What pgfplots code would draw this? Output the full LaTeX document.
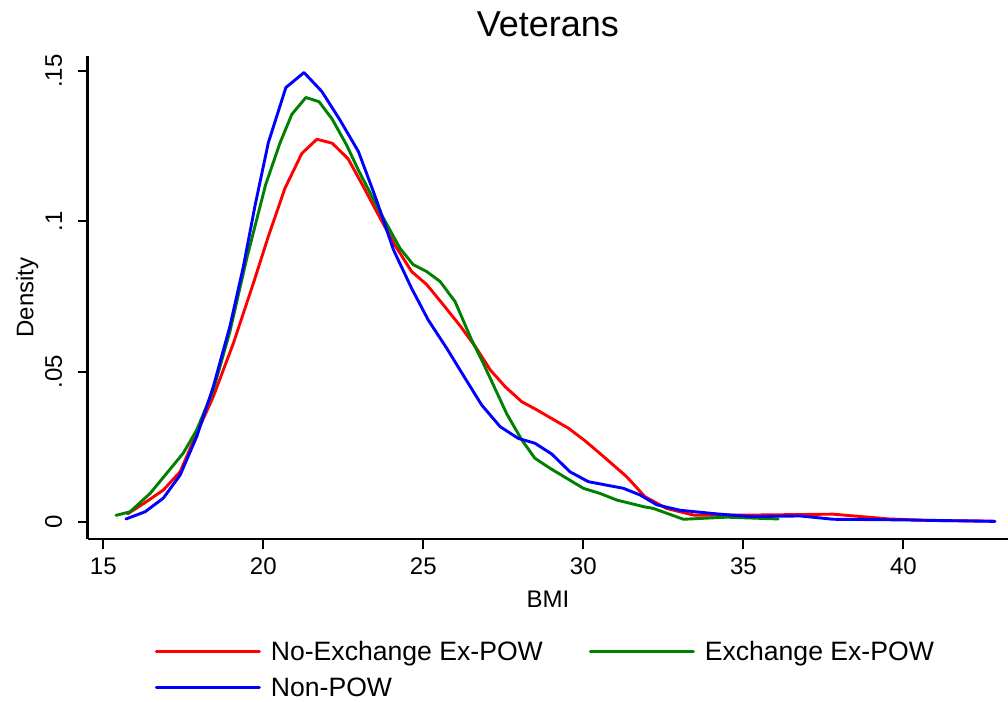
\documentclass[border=0pt]{standalone}
\usepackage{pgfplots}
\pgfplotsset{compat=1.18}
\usepackage{fontspec}
\setmainfont{Liberation Sans}
\definecolor{sred}{RGB}{255,0,0}
\definecolor{sgreen}{RGB}{0,128,0}
\definecolor{sblue}{RGB}{0,0,255}

\pgfplotstableread{
x y
15.759 0.0027
16.355 0.0068
16.873 0.0106
17.401 0.0167
17.919 0.0295
18.437 0.0417
19.063 0.0594
19.689 0.0794
20.158 0.0950
20.676 0.1110
21.204 0.1226
21.673 0.1273
22.152 0.1260
22.650 0.1208
23.129 0.1115
23.628 0.1015
24.117 0.0920
24.635 0.0833
25.104 0.0790
25.681 0.0715
26.169 0.0650
26.658 0.0578
27.098 0.0505
27.557 0.0450
28.076 0.0400
28.545 0.0373
29.532 0.0312
30.031 0.0272
30.519 0.0228
31.350 0.0151
31.927 0.0084
32.601 0.0045
33.442 0.0023
35.211 0.0023
36.922 0.0025
37.802 0.0026
38.681 0.0018
39.561 0.0010
40.832 0.0005
42.800 0.0003
}\noexch

\pgfplotstableread{
x y
15.397 0.0022
15.837 0.0034
16.463 0.0095
16.981 0.0162
17.499 0.0229
17.919 0.0306
18.437 0.0439
18.955 0.0633
19.483 0.0877
20.070 0.1121
20.519 0.1260
20.891 0.1356
21.331 0.1412
21.741 0.1398
22.152 0.1340
22.602 0.1254
22.973 0.1170
23.628 0.1035
24.273 0.0910
24.684 0.0856
25.104 0.0833
25.524 0.0800
25.993 0.0733
26.511 0.0605
26.873 0.0528
27.606 0.0360
28.076 0.0273
28.486 0.0212
28.955 0.0179
30.001 0.0112
30.519 0.0095
31.047 0.0073
31.878 0.0051
32.191 0.0045
33.129 0.0009
34.478 0.0016
36.091 0.0010
}\exch

\pgfplotstableread{
x y
15.710 0.0010
16.306 0.0034
16.873 0.0079
17.401 0.0156
17.919 0.0284
18.437 0.0450
18.955 0.0650
19.376 0.0849
19.737 0.1050
20.158 0.1262
20.705 0.1445
21.272 0.1495
21.829 0.1432
22.396 0.1337
22.973 0.1232
23.540 0.1070
24.068 0.0905
24.635 0.0777
25.153 0.0672
25.730 0.0578
26.306 0.0478
26.824 0.0389
27.401 0.0317
27.968 0.0278
28.486 0.0262
29.014 0.0226
29.581 0.0167
30.158 0.0134
31.252 0.0112
31.770 0.0090
32.298 0.0057
33.022 0.0039
34.165 0.0027
35.211 0.0018
36.775 0.0020
37.811 0.0009
39.903 0.0007
42.865 0.0002
}\nonpow

\begin{document}
\begin{tikzpicture}
\useasboundingbox (-87.7bp,-163bp) rectangle (920.3bp,539bp);
\begin{axis}[
  scale only axis, width=920.3bp, height=483.3bp,
  at={(0,0)}, anchor=south west,
  xmin=14.5125, xmax=43.27, ymin=-0.00566, ymax=0.1551,
  axis lines=left,
  axis line style={-, line width=2.4bp, black},
  tick align=outside,
  major tick length=10bp,
  tick style={line width=2bp, black},
  xtick={15,20,25,30,35,40},
  xticklabels={15,20,25,30,35,40},
  ytick={0,0.05,0.1,0.15},
  yticklabels={0,.05,.1,.15},
  /pgf/number format/assume math mode=true,
  ticklabel style={font=\fontsize{24bp}{28bp}\selectfont},
  xticklabel style={anchor=north, yshift=-5bp},
  yticklabel style={rotate=90, anchor=south, yshift=12bp},
  title={Veterans},
  title style={font=\fontsize{36bp}{40bp}\selectfont, at={(axis description cs:0.5,1)}, anchor=base, yshift=13bp},
  xlabel={BMI},
  xlabel style={font=\fontsize{24bp}{28bp}\selectfont, at={(axis description cs:0.5,0)}, anchor=base, yshift=-68bp},
  ylabel={Density},
  ylabel style={font=\fontsize{24bp}{28bp}\selectfont, at={(axis description cs:-0.0591,0.5)}, anchor=base},
  clip=false,
  legend columns=2,
  legend image code/.code={\draw[#1] (0bp,9.5bp) -- (103bp,9.5bp);},
  legend style={draw=none, fill=none, inner sep=0pt, outer sep=0pt,
    at={(axis description cs:0.0731,-0.213)}, anchor=north west,
    font=\fontsize{26.6bp}{30bp}\selectfont,
    nodes={inner sep=0pt, text height=19bp, text depth=5bp, anchor=base west},
    row sep=12bp,
    /tikz/every odd column/.append style={column sep=10bp},
    /tikz/every even column/.append style={column sep=33bp}},
  every axis plot/.append style={line width=2.9bp, line join=round, line cap=round},
]
\addplot[sred] table[x=x,y=y] {\noexch};
\addlegendentry{\makebox[285bp][l]{No-Exchange Ex-POW}}
\addplot[sgreen] table[x=x,y=y] {\exch};
\addlegendentry{Exchange Ex-POW}
\addplot[sblue] table[x=x,y=y] {\nonpow};
\addlegendentry{Non-POW}
\end{axis}
\end{tikzpicture}
\end{document}
